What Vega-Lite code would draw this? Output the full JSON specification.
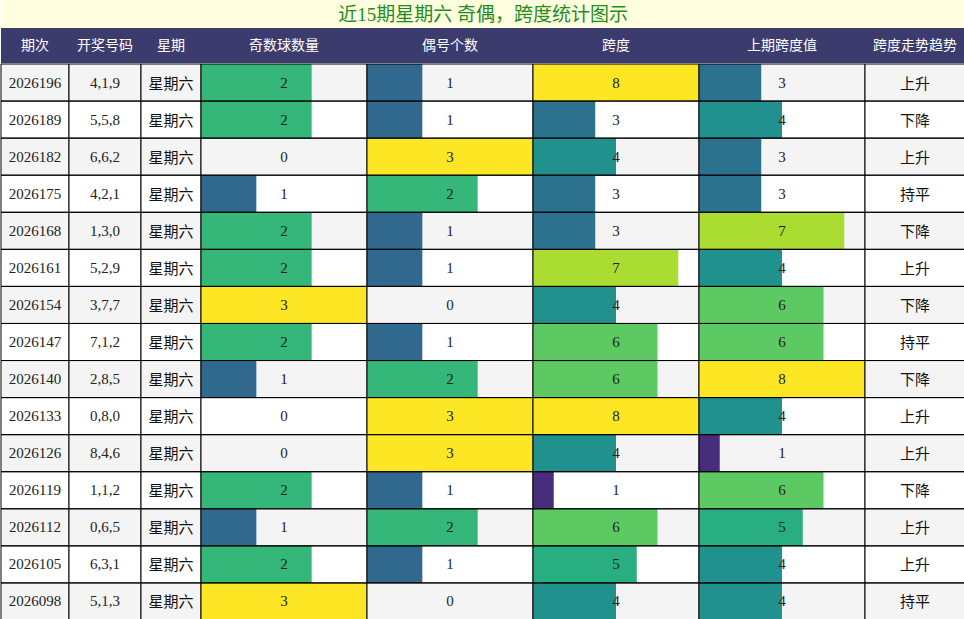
{
  "$schema": "https://vega.github.io/schema/vega-lite/v6.json",
  "description": "Table chart of the last 15 Saturday draws: odd/even counts and span with viridis bars.",
  "padding": 0,
  "spacing": 0,
  "datasets": {
    "draws": [
      {"period": "2026196", "nums": "4,1,9", "day": "星期六", "odd": 2, "even": 1, "span": 8, "prev": 3, "trend": "上升"},
      {"period": "2026189", "nums": "5,5,8", "day": "星期六", "odd": 2, "even": 1, "span": 3, "prev": 4, "trend": "下降"},
      {"period": "2026182", "nums": "6,6,2", "day": "星期六", "odd": 0, "even": 3, "span": 4, "prev": 3, "trend": "上升"},
      {"period": "2026175", "nums": "4,2,1", "day": "星期六", "odd": 1, "even": 2, "span": 3, "prev": 3, "trend": "持平"},
      {"period": "2026168", "nums": "1,3,0", "day": "星期六", "odd": 2, "even": 1, "span": 3, "prev": 7, "trend": "下降"},
      {"period": "2026161", "nums": "5,2,9", "day": "星期六", "odd": 2, "even": 1, "span": 7, "prev": 4, "trend": "上升"},
      {"period": "2026154", "nums": "3,7,7", "day": "星期六", "odd": 3, "even": 0, "span": 4, "prev": 6, "trend": "下降"},
      {"period": "2026147", "nums": "7,1,2", "day": "星期六", "odd": 2, "even": 1, "span": 6, "prev": 6, "trend": "持平"},
      {"period": "2026140", "nums": "2,8,5", "day": "星期六", "odd": 1, "even": 2, "span": 6, "prev": 8, "trend": "下降"},
      {"period": "2026133", "nums": "0,8,0", "day": "星期六", "odd": 0, "even": 3, "span": 8, "prev": 4, "trend": "上升"},
      {"period": "2026126", "nums": "8,4,6", "day": "星期六", "odd": 0, "even": 3, "span": 4, "prev": 1, "trend": "上升"},
      {"period": "2026119", "nums": "1,1,2", "day": "星期六", "odd": 2, "even": 1, "span": 1, "prev": 6, "trend": "下降"},
      {"period": "2026112", "nums": "0,6,5", "day": "星期六", "odd": 1, "even": 2, "span": 6, "prev": 5, "trend": "上升"},
      {"period": "2026105", "nums": "6,3,1", "day": "星期六", "odd": 2, "even": 1, "span": 5, "prev": 4, "trend": "上升"},
      {"period": "2026098", "nums": "5,1,3", "day": "星期六", "odd": 3, "even": 0, "span": 4, "prev": 4, "trend": "持平"}
    ]
  },
  "vconcat": [
    {
      "width": 964,
      "height": 28,
      "view": {"fill": "#ffffe0"},
      "data": {"values": [{"t": "近15期星期六 奇偶，跨度统计图示"}]},
      "mark": {"type": "text", "color": "#1e8c1e", "fontSize": 19, "font": "Liberation Serif, Noto Sans CJK SC", "dy": 1},
      "encoding": {"text": {"field": "t"}}
    },
    {
      "spacing": 0,
      "bounds": "flush",
      "hconcat": [
        {"width": 68, "height": 35, "view": {"fill": "#3c3b6e"}, "data": {"values": [{"h": "期次"}]},
         "mark": {"type": "text", "color": "white", "font": "Noto Sans CJK SC", "fontSize": 14}, "encoding": {"text": {"field": "h"}}},
        {"width": 72, "height": 35, "view": {"fill": "#3c3b6e"}, "data": {"values": [{"h": "开奖号码"}]},
         "mark": {"type": "text", "color": "white", "font": "Noto Sans CJK SC", "fontSize": 14}, "encoding": {"text": {"field": "h"}}},
        {"width": 60, "height": 35, "view": {"fill": "#3c3b6e"}, "data": {"values": [{"h": "星期"}]},
         "mark": {"type": "text", "color": "white", "font": "Noto Sans CJK SC", "fontSize": 14}, "encoding": {"text": {"field": "h"}}},
        {"width": 166, "height": 35, "view": {"fill": "#3c3b6e"}, "data": {"values": [{"h": "奇数球数量"}]},
         "mark": {"type": "text", "color": "white", "font": "Noto Sans CJK SC", "fontSize": 14}, "encoding": {"text": {"field": "h"}}},
        {"width": 166, "height": 35, "view": {"fill": "#3c3b6e"}, "data": {"values": [{"h": "偶号个数"}]},
         "mark": {"type": "text", "color": "white", "font": "Noto Sans CJK SC", "fontSize": 14}, "encoding": {"text": {"field": "h"}}},
        {"width": 166, "height": 35, "view": {"fill": "#3c3b6e"}, "data": {"values": [{"h": "跨度"}]},
         "mark": {"type": "text", "color": "white", "font": "Noto Sans CJK SC", "fontSize": 14}, "encoding": {"text": {"field": "h"}}},
        {"width": 166, "height": 35, "view": {"fill": "#3c3b6e"}, "data": {"values": [{"h": "上期跨度值"}]},
         "mark": {"type": "text", "color": "white", "font": "Noto Sans CJK SC", "fontSize": 14}, "encoding": {"text": {"field": "h"}}},
        {"width": 100, "height": 35, "view": {"fill": "#3c3b6e"}, "data": {"values": [{"h": "跨度走势趋势"}]},
         "mark": {"type": "text", "color": "white", "font": "Noto Sans CJK SC", "fontSize": 14}, "encoding": {"text": {"field": "h"}}}
      ]
    },
    {
      "spacing": 0,
      "bounds": "flush",
      "data": {"name": "draws"},
      "transform": [{"window": [{"op": "row_number", "as": "rn"}]}],
      "resolve": {"scale": {"fill": "independent", "x": "independent"}},
      "hconcat": [
        {
          "width": 68, "height": 556,
          "layer": [
            {"mark": {"type": "rect"}, "encoding": {"y": {"field": "period", "type": "ordinal", "sort": null, "scale": {"paddingInner": 0, "paddingOuter": 0}, "axis": null},
              "color": {"condition": {"test": "datum.rn % 2 == 1", "value": "#f4f4f4"}, "value": "white"}}},
            {"mark": {"type": "text", "font": "Liberation Serif, Noto Sans CJK SC", "fontSize": 15, "color": "#222"},
             "encoding": {"y": {"field": "period", "type": "ordinal", "sort": null, "axis": null}, "text": {"field": "period"}}},
            {"mark": {"type": "rect", "fillOpacity": 0, "stroke": "black", "strokeWidth": 1}, "encoding": {"y": {"field": "period", "type": "ordinal", "sort": null, "axis": null}}}
          ]
        },
        {
          "width": 72, "height": 556,
          "layer": [
            {"mark": {"type": "rect"}, "encoding": {"y": {"field": "period", "type": "ordinal", "sort": null, "scale": {"paddingInner": 0, "paddingOuter": 0}, "axis": null},
              "color": {"condition": {"test": "datum.rn % 2 == 1", "value": "#f4f4f4"}, "value": "white"}}},
            {"mark": {"type": "text", "font": "Liberation Serif, Noto Sans CJK SC", "fontSize": 15, "color": "#222"},
             "encoding": {"y": {"field": "period", "type": "ordinal", "sort": null, "axis": null}, "text": {"field": "nums"}}},
            {"mark": {"type": "rect", "fillOpacity": 0, "stroke": "black", "strokeWidth": 1}, "encoding": {"y": {"field": "period", "type": "ordinal", "sort": null, "axis": null}}}
          ]
        },
        {
          "width": 60, "height": 556,
          "layer": [
            {"mark": {"type": "rect"}, "encoding": {"y": {"field": "period", "type": "ordinal", "sort": null, "scale": {"paddingInner": 0, "paddingOuter": 0}, "axis": null},
              "color": {"condition": {"test": "datum.rn % 2 == 1", "value": "#f4f4f4"}, "value": "white"}}},
            {"mark": {"type": "text", "font": "Noto Sans CJK SC", "fontSize": 15, "color": "#111", "dy": 1},
             "encoding": {"y": {"field": "period", "type": "ordinal", "sort": null, "axis": null}, "text": {"field": "day"}}},
            {"mark": {"type": "rect", "fillOpacity": 0, "stroke": "black", "strokeWidth": 1}, "encoding": {"y": {"field": "period", "type": "ordinal", "sort": null, "axis": null}}}
          ]
        },
        {
          "width": 166, "height": 556,
          "layer": [
            {"mark": {"type": "rect"}, "encoding": {"y": {"field": "period", "type": "ordinal", "sort": null, "scale": {"paddingInner": 0, "paddingOuter": 0}, "axis": null},
              "color": {"condition": {"test": "datum.rn % 2 == 1", "value": "#f4f4f4"}, "value": "white"}}},
            {"mark": {"type": "bar"},
             "encoding": {"y": {"field": "period", "type": "ordinal", "sort": null, "axis": null},
               "x": {"field": "odd", "type": "quantitative", "scale": {"domain": [0, 3], "nice": false}, "axis": null},
               "fill": {"field": "odd", "type": "quantitative", "scale": {"scheme": "viridis", "domain": [0, 3]}, "legend": null}}},
            {"mark": {"type": "text", "font": "Liberation Serif", "fontSize": 15, "color": "#222"},
             "encoding": {"y": {"field": "period", "type": "ordinal", "sort": null, "axis": null}, "text": {"field": "odd"}}},
            {"mark": {"type": "rect", "fillOpacity": 0, "stroke": "black", "strokeWidth": 1}, "encoding": {"y": {"field": "period", "type": "ordinal", "sort": null, "axis": null}}}
          ]
        },
        {
          "width": 166, "height": 556,
          "layer": [
            {"mark": {"type": "rect"}, "encoding": {"y": {"field": "period", "type": "ordinal", "sort": null, "scale": {"paddingInner": 0, "paddingOuter": 0}, "axis": null},
              "color": {"condition": {"test": "datum.rn % 2 == 1", "value": "#f4f4f4"}, "value": "white"}}},
            {"mark": {"type": "bar"},
             "encoding": {"y": {"field": "period", "type": "ordinal", "sort": null, "axis": null},
               "x": {"field": "even", "type": "quantitative", "scale": {"domain": [0, 3], "nice": false}, "axis": null},
               "fill": {"field": "even", "type": "quantitative", "scale": {"scheme": "viridis", "domain": [0, 3]}, "legend": null}}},
            {"mark": {"type": "text", "font": "Liberation Serif", "fontSize": 15, "color": "#222"},
             "encoding": {"y": {"field": "period", "type": "ordinal", "sort": null, "axis": null}, "text": {"field": "even"}}},
            {"mark": {"type": "rect", "fillOpacity": 0, "stroke": "black", "strokeWidth": 1}, "encoding": {"y": {"field": "period", "type": "ordinal", "sort": null, "axis": null}}}
          ]
        },
        {
          "width": 166, "height": 556,
          "layer": [
            {"mark": {"type": "rect"}, "encoding": {"y": {"field": "period", "type": "ordinal", "sort": null, "scale": {"paddingInner": 0, "paddingOuter": 0}, "axis": null},
              "color": {"condition": {"test": "datum.rn % 2 == 1", "value": "#f4f4f4"}, "value": "white"}}},
            {"mark": {"type": "bar"},
             "encoding": {"y": {"field": "period", "type": "ordinal", "sort": null, "axis": null},
               "x": {"field": "span", "type": "quantitative", "scale": {"domain": [0, 8], "nice": false}, "axis": null},
               "fill": {"field": "span", "type": "quantitative", "scale": {"scheme": "viridis", "domain": [0, 8]}, "legend": null}}},
            {"mark": {"type": "text", "font": "Liberation Serif", "fontSize": 15, "color": "#222"},
             "encoding": {"y": {"field": "period", "type": "ordinal", "sort": null, "axis": null}, "text": {"field": "span"}}},
            {"mark": {"type": "rect", "fillOpacity": 0, "stroke": "black", "strokeWidth": 1}, "encoding": {"y": {"field": "period", "type": "ordinal", "sort": null, "axis": null}}}
          ]
        },
        {
          "width": 166, "height": 556,
          "layer": [
            {"mark": {"type": "rect"}, "encoding": {"y": {"field": "period", "type": "ordinal", "sort": null, "scale": {"paddingInner": 0, "paddingOuter": 0}, "axis": null},
              "color": {"condition": {"test": "datum.rn % 2 == 1", "value": "#f4f4f4"}, "value": "white"}}},
            {"mark": {"type": "bar"},
             "encoding": {"y": {"field": "period", "type": "ordinal", "sort": null, "axis": null},
               "x": {"field": "prev", "type": "quantitative", "scale": {"domain": [0, 8], "nice": false}, "axis": null},
               "fill": {"field": "prev", "type": "quantitative", "scale": {"scheme": "viridis", "domain": [0, 8]}, "legend": null}}},
            {"mark": {"type": "text", "font": "Liberation Serif", "fontSize": 15, "color": "#222"},
             "encoding": {"y": {"field": "period", "type": "ordinal", "sort": null, "axis": null}, "text": {"field": "prev"}}},
            {"mark": {"type": "rect", "fillOpacity": 0, "stroke": "black", "strokeWidth": 1}, "encoding": {"y": {"field": "period", "type": "ordinal", "sort": null, "axis": null}}}
          ]
        },
        {
          "width": 100, "height": 556,
          "layer": [
            {"mark": {"type": "rect"}, "encoding": {"y": {"field": "period", "type": "ordinal", "sort": null, "scale": {"paddingInner": 0, "paddingOuter": 0}, "axis": null},
              "color": {"condition": {"test": "datum.rn % 2 == 1", "value": "#f4f4f4"}, "value": "white"}}},
            {"mark": {"type": "text", "font": "Noto Sans CJK SC", "fontSize": 15, "color": "#111", "dy": 1},
             "encoding": {"y": {"field": "period", "type": "ordinal", "sort": null, "axis": null}, "text": {"field": "trend"}}},
            {"mark": {"type": "rect", "fillOpacity": 0, "stroke": "black", "strokeWidth": 1}, "encoding": {"y": {"field": "period", "type": "ordinal", "sort": null, "axis": null}}}
          ]
        }
      ]
    }
  ],
  "config": {
    "view": {"stroke": "black", "strokeWidth": 1},
    "concat": {"spacing": 0}
  }
}
